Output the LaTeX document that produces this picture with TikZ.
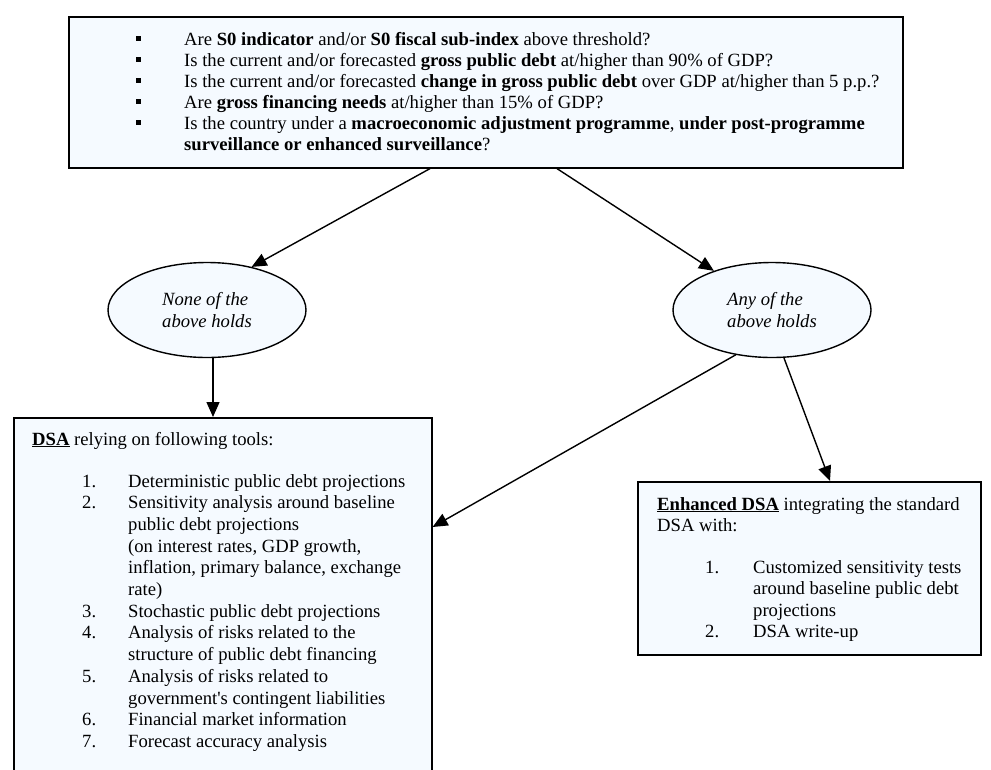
\documentclass[tikz,border=0pt]{standalone}
\usepackage{fontspec}
\setmainfont{Liberation Serif}
\usetikzlibrary{arrows.meta,shapes.geometric}
\definecolor{boxfill}{RGB}{245,250,255}
\newcommand\fsz{\fontsize{18.65}{21.5}\selectfont}
\newcommand\bul{\raisebox{4.5pt}{\rule{5pt}{5pt}}}
\begin{document}
\begin{tikzpicture}[x=1pt,y=-1pt,
  box/.style={draw=black,line width=1.6pt,fill=boxfill,rectangle,inner sep=0pt,anchor=north west},
  oval/.style={draw=black,line width=1.4pt,fill=boxfill,ellipse,inner sep=0pt,minimum width=198pt,minimum height=95pt,font=\fsz\itshape,align=left},
  txt/.style={anchor=base west,inner sep=0pt,font=\fsz},
  arr/.style={line width=1.4pt,-{Triangle[length=15pt,width=13pt]}}]
\useasboundingbox (0,0) rectangle (991,769);
\clip (0,0) rectangle (991,769);
\fill[white] (0,0) rectangle (991,769);
% boxes
\node[box, minimum width=834pt, minimum height=151pt] (qbox) at (68,16) {};
\node[box, minimum width=418pt, minimum height=420pt] (lbox) at (13,417) {};
\node[box, minimum width=343pt, minimum height=173pt] (rbox) at (637,481) {};
% ellipses
\node[oval] (none) at (207,310) {None of the\\above holds};
\node[oval] (any) at (772,310) {Any of the\\above holds};
% top text
\node[txt, font=\fontsize{18.65}{21}\selectfont] (qs) at (136,45) {\begin{tabular}[t]{@{}p{48pt}@{}l@{}}
\bul & Are \textbf{S0 indicator} and/or \textbf{S0 fiscal sub-index} above threshold?\\
\bul & Is the current and/or forecasted \textbf{gross public debt} at/higher than 90\% of GDP?\\
\bul & Is the current and/or forecasted \textbf{change in gross public debt} over GDP at/higher than 5 p.p.?\\
\bul & Are \textbf{gross financing needs} at/higher than 15\% of GDP?\\
\bul & Is the country under a \textbf{macroeconomic adjustment programme}, \textbf{under post-programme}\\
 & \textbf{surveillance or enhanced surveillance}?
\end{tabular}};
% left box text
\node[txt] (hdr) at (32,445) {\underline{\textbf{DSA}} relying on following tools:};
\node[txt, font=\fontsize{18.65}{21.7}\selectfont] (tools) at (82,487) {\begin{tabular}[t]{@{}p{46pt}@{}l@{}}
1. & Deterministic public debt projections\\
2. & Sensitivity analysis around baseline\\
 & public debt projections\\
 & (on interest rates, GDP growth,\\
 & inflation, primary balance, exchange\\
 & rate)\\
3. & Stochastic public debt projections\\
4. & Analysis of risks related to the\\
 & structure of public debt financing\\
5. & Analysis of risks related to\\
 & government\textquotesingle s contingent liabilities\\
6. & Financial market information\\
7. & Forecast accuracy analysis
\end{tabular}};
% right box text
\node[txt] (enh) at (657,510) {\begin{tabular}[t]{@{}l@{}}\underline{\textbf{Enhanced DSA}} integrating the standard\\
DSA with:\end{tabular}};
\node[txt] (enhl) at (705,573) {\begin{tabular}[t]{@{}p{48pt}@{}l@{}}
1. & Customized sensitivity tests\\
 & around baseline public debt\\
 & projections\\
2. & DSA write-up
\end{tabular}};
% arrows
\coordinate (a3) at ([xshift=6pt]none.south);
\draw[arr] ([xshift=362pt]qbox.south west) -- (none.44);
\draw[arr] ([xshift=489pt]qbox.south west) -- (any.146);
\draw[arr] (a3) -- (a3 |- lbox.north);
\draw[arr] (any.231) -- ([yshift=-110pt]lbox.north east);
\draw[arr] (any.284) -- ([xshift=193pt]rbox.north west);
\end{tikzpicture}
\end{document}
